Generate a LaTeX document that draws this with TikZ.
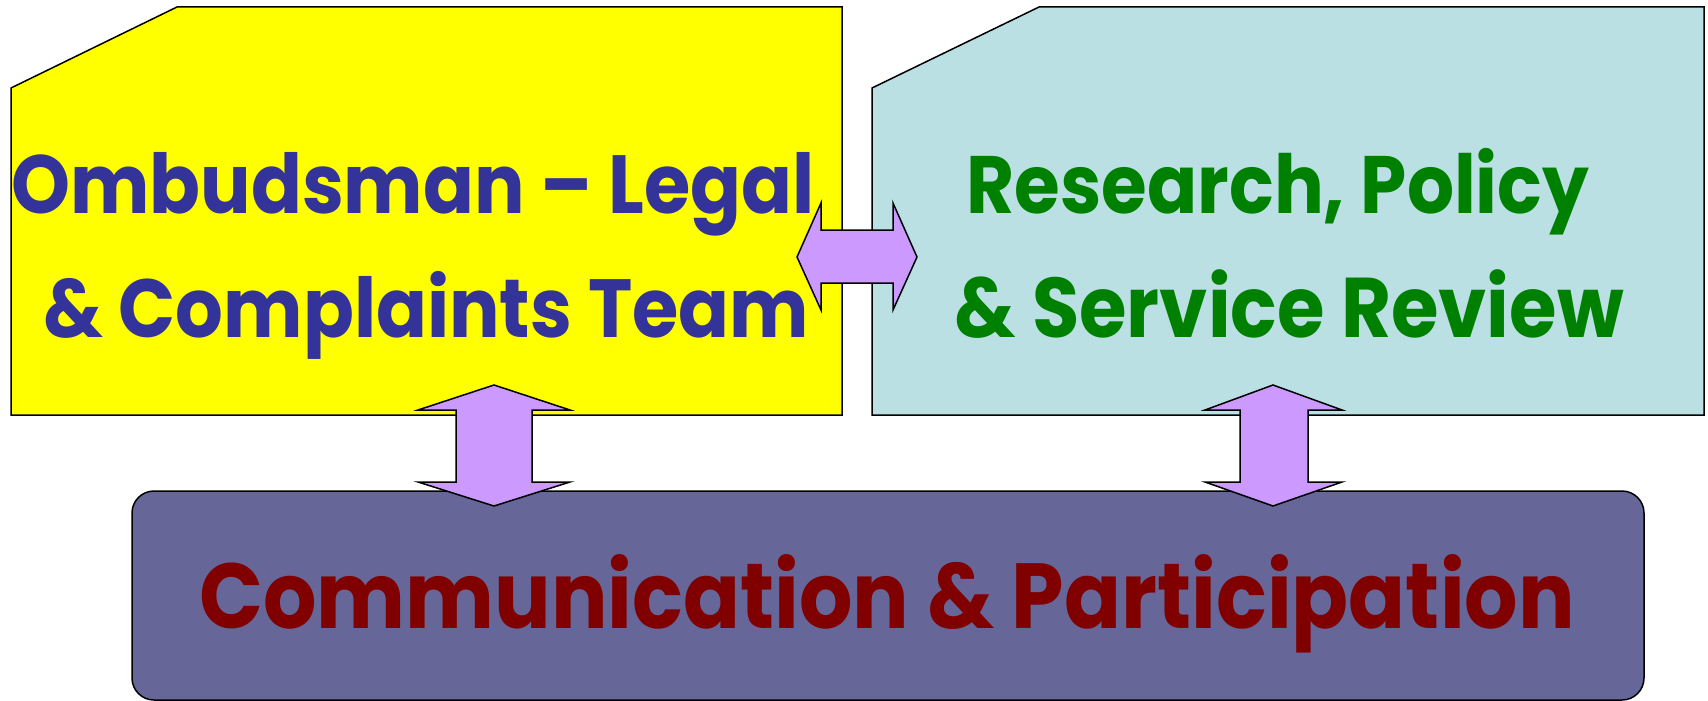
\documentclass[tikz,border=0pt]{standalone}
\usepackage{fontspec}
\setmainfont{Poppins}
\definecolor{boxyellow}{HTML}{FFFF00}
\definecolor{boxblue}{HTML}{BBE0E3}
\definecolor{boxpurple}{HTML}{666699}
\definecolor{arrowlilac}{HTML}{CC99FF}
\definecolor{txtnavy}{HTML}{333399}
\definecolor{txtgreen}{HTML}{008000}
\definecolor{txtmaroon}{HTML}{800000}
\tikzset{
  panel/.style={draw=black, line width=1.5pt, line join=miter},
  blockarrow/.style={draw=black, fill=arrowlilac, line width=1.5pt, line join=miter},
  paneltext/.style={font=\fontsize{75}{90}\selectfont\bfseries, inner sep=0pt, anchor=base, yscale=1.1, transform shape},
  bigtext/.style={font=\fontsize{84}{100}\selectfont\bfseries, inner sep=0pt, anchor=base, yscale=1.1, transform shape}
}
\begin{document}
\begin{tikzpicture}[x=1pt,y=-1pt]
\useasboundingbox (0,0) rectangle (1708,701);
% panels
\draw[panel, fill=boxyellow] (11,88) -- (177,7) -- (842,7) -- (842,415) -- (11,415) -- cycle;
\draw[panel, fill=boxblue] (872,88) -- (1039,7) -- (1704,7) -- (1704,415) -- (872,415) -- cycle;
\draw[panel, fill=boxpurple, rounded corners=22pt] (132,491) rectangle (1644,700);
% texts
\node[paneltext, text=txtnavy] (ombudA) at (413,213) {Ombudsman -- Legal};
\node[paneltext, text=txtnavy] (ombudB) at (426,337) {\& Complaints Team};
\node[paneltext, text=txtgreen, font=\fontsize{74}{90}\selectfont\bfseries] (researchA) at (1278,213) {Research, Policy};
\node[paneltext, text=txtgreen, font=\fontsize{77}{90}\selectfont\bfseries] (researchB) at (1289,337) {\& Service Review};
\node[bigtext, text=txtmaroon] (comm) at (887,628) {Communication \& Participation};
% horizontal double arrow
\draw[blockarrow] (797,257) -- (821,203) -- (821,230) -- (893,230) -- (893,203) -- (917,257)
  -- (893,310) -- (893,283) -- (821,283) -- (821,310) -- cycle;
% vertical double arrows
\draw[blockarrow] (494,385) -- (570,410) -- (532,410) -- (532,482) -- (570,482) -- (494,506)
  -- (418,482) -- (456,482) -- (456,410) -- (418,410) -- cycle;
\draw[blockarrow] (1273,385) -- (1342,410) -- (1308,410) -- (1308,482) -- (1342,482) -- (1273,506)
  -- (1205,482) -- (1240,482) -- (1240,410) -- (1205,410) -- cycle;
\end{tikzpicture}
\end{document}
